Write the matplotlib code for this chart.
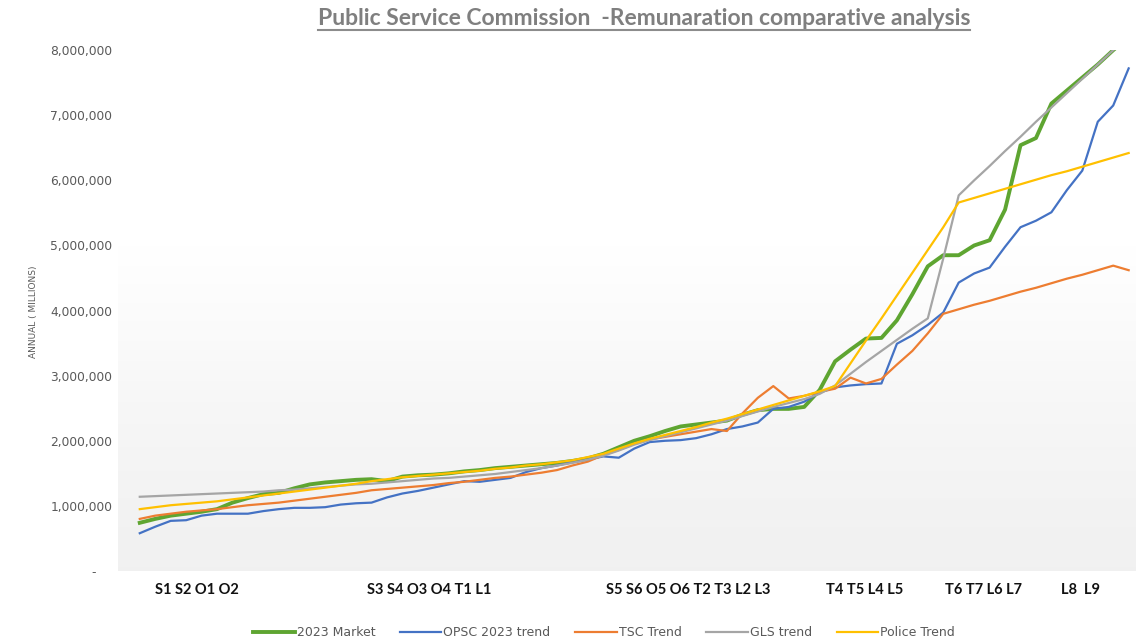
import numpy as np
import matplotlib
import matplotlib.pyplot as plt
from matplotlib.lines import Line2D
from matplotlib.ticker import FuncFormatter

matplotlib.use("Agg")

# values in millions, one per grade point (65 points)
market = [0.74, 0.80, 0.85, 0.88, 0.91, 0.95, 1.05, 1.12, 1.18, 1.20,
          1.27, 1.33, 1.36, 1.38, 1.40, 1.41, 1.38, 1.45, 1.47, 1.48,
          1.50, 1.53, 1.55, 1.58, 1.60, 1.62, 1.64, 1.66, 1.69, 1.73,
          1.80, 1.90, 2.00, 2.07, 2.15, 2.22, 2.25, 2.28, 2.31, 2.40,
          2.47, 2.49, 2.49, 2.52, 2.78, 3.22, 3.40, 3.57, 3.58, 3.85,
          4.25, 4.68, 4.85, 4.85, 5.00, 5.08, 5.55, 6.54, 6.65, 7.18,
          7.38, 7.58, 7.78, 8.00, 8.20]
opsc = [0.58, 0.68, 0.77, 0.78, 0.85, 0.88, 0.88, 0.88, 0.92, 0.95,
        0.97, 0.97, 0.98, 1.02, 1.04, 1.05, 1.13, 1.19, 1.23, 1.28,
        1.33, 1.38, 1.37, 1.40, 1.43, 1.52, 1.58, 1.62, 1.67, 1.71,
        1.76, 1.74, 1.88, 1.98, 2.00, 2.01, 2.04, 2.10, 2.18, 2.22,
        2.28, 2.49, 2.52, 2.60, 2.74, 2.82, 2.85, 2.87, 2.88, 3.49,
        3.62, 3.78, 3.97, 4.43, 4.57, 4.66, 4.98, 5.28, 5.38, 5.51,
        5.85, 6.15, 6.90, 7.15, 7.72]
tsc = [0.80, 0.85, 0.88, 0.91, 0.93, 0.95, 0.98, 1.01, 1.03, 1.05,
       1.08, 1.11, 1.14, 1.17, 1.20, 1.24, 1.26, 1.28, 1.30, 1.32,
       1.35, 1.37, 1.40, 1.43, 1.45, 1.48, 1.51, 1.55, 1.62, 1.68,
       1.78, 1.86, 1.95, 2.02, 2.06, 2.10, 2.14, 2.18, 2.15, 2.42,
       2.66, 2.84, 2.65, 2.69, 2.75, 2.80, 2.97, 2.88, 2.95, 3.17,
       3.38, 3.65, 3.95, 4.02, 4.09, 4.15, 4.22, 4.29, 4.35, 4.42,
       4.49, 4.55, 4.62, 4.69, 4.62]
gls = [1.14, 1.15, 1.16, 1.17, 1.18, 1.19, 1.20, 1.21, 1.22, 1.24,
       1.25, 1.27, 1.29, 1.31, 1.33, 1.34, 1.36, 1.38, 1.40, 1.42,
       1.43, 1.45, 1.47, 1.49, 1.52, 1.55, 1.58, 1.62, 1.66, 1.71,
       1.77, 1.85, 1.94, 2.01, 2.07, 2.13, 2.19, 2.25, 2.31, 2.38,
       2.45, 2.52, 2.58, 2.64, 2.72, 2.85, 3.03, 3.21, 3.38, 3.55,
       3.72, 3.88, 4.80, 5.77, 6.00, 6.22, 6.45, 6.67, 6.90, 7.12,
       7.34, 7.56, 7.78, 8.00, 8.22]
police = [0.95, 0.98, 1.01, 1.03, 1.05, 1.07, 1.10, 1.13, 1.16, 1.19,
          1.22, 1.25, 1.28, 1.31, 1.34, 1.38, 1.41, 1.44, 1.46, 1.48,
          1.50, 1.52, 1.54, 1.57, 1.59, 1.62, 1.64, 1.67, 1.70, 1.75,
          1.80, 1.88, 1.96, 2.03, 2.09, 2.15, 2.21, 2.28, 2.34, 2.41,
          2.48, 2.55, 2.62, 2.69, 2.76, 2.84, 3.19, 3.54, 3.88, 4.23,
          4.58, 4.93, 5.28, 5.66, 5.73, 5.80, 5.87, 5.94, 6.01, 6.08,
          6.14, 6.21, 6.28, 6.35, 6.42]

group_labels = ["S1 S2 O1 O2", "S3 S4 O3 O4 T1 L1", "S5 S6 O5 O6 T2 T3 L2 L3",
                "T4 T5 L4 L5", "T6 T7 L6 L7", "L8  L9"]
group_pos = [3.7, 18.7, 35.5, 46.9, 54.6, 60.9]

series = [
    ("2023 Market", market, "#5ea531", 2.8),
    ("OPSC 2023 trend", opsc, "#4472c4", 1.6),
    ("TSC Trend", tsc, "#ed7d31", 1.6),
    ("GLS trend", gls, "#a5a5a5", 1.6),
    ("Police Trend", police, "#ffc000", 1.6),
]

fig = plt.figure(figsize=(11.44, 6.43), dpi=100)
ax = fig.add_axes([0.103, 0.112, 0.889, 0.810])

# soft grey-to-white fill behind the lines (grey at the bottom)
t = np.linspace(0, 1, 256)
shade = np.where(t > 0.62, 1.0, 0.945 + (1.0 - 0.945) * (t / 0.62) ** 1.3)
grad = np.dstack([shade, shade, shade]).reshape(256, 1, 3)
ax.imshow(grad, extent=[0, 1, 0, 1], transform=ax.transAxes, origin="lower",
          aspect="auto", zorder=0)

x = np.arange(len(market))
for name, vals, col, lw in series:
    ax.plot(x, np.array(vals) * 1e6, color=col, lw=lw, label=name,
            zorder=3, solid_joinstyle="round")

ax.set_xlim(-1.42, 64.4)
ax.set_ylim(0, 8e6)
ax.set_yticks(np.arange(0, 8.01e6, 1e6))
ax.yaxis.set_major_formatter(
    FuncFormatter(lambda v, p: "-    " if v == 0 else f"{int(v):,}"))
ax.tick_params(axis="y", length=0, pad=4, labelsize=8.8, labelcolor="#595959")
ax.set_xticks(group_pos)
ax.set_xticklabels(group_labels, fontfamily="Lato", fontweight="bold",
                   fontsize=10.5, color="#111111")
ax.tick_params(axis="x", length=0, pad=9)
for s in ax.spines.values():
    s.set_visible(False)

fig.text(0.029, 0.515, "ANNUAL ( MILLIONS)", rotation=90, fontsize=6.5,
         color="#595959", ha="center", va="center")

title = fig.text(0.563, 0.971, "Public Service Commission  -Remunaration comparative analysis",
                 fontfamily="Lato", fontweight="bold", fontsize=16.5,
                 color="#7f7f7f", ha="center", va="center")

fig.legend(loc="center", bbox_to_anchor=(0.528, 0.016), ncol=5, frameon=False,
           fontsize=9, labelcolor="#595959", handlelength=3.3,
           handletextpad=0.15, columnspacing=2.0)

# underline the title
fig.canvas.draw()
bb = title.get_window_extent(fig.canvas.get_renderer())
inv = fig.transFigure.inverted()
(x0, y0), (x1, _) = inv.transform([[bb.x0, bb.y0], [bb.x1, bb.y0]])
fig.add_artist(Line2D([x0, x1], [y0 - 0.001, y0 - 0.001], color="#8c8c8c",
                      lw=1.5, transform=fig.transFigure))

fig.savefig("out.png", dpi=100)
